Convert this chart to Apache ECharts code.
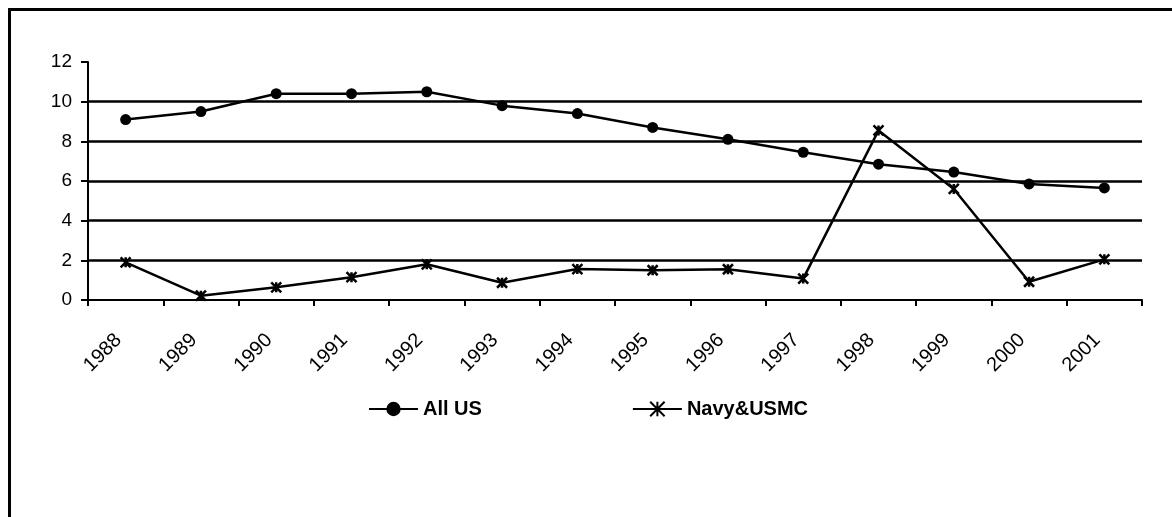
<!DOCTYPE html>
<html>
<head>
<meta charset="utf-8">
<script src="https://cdn.jsdelivr.net/npm/echarts@6/dist/echarts.min.js"></script>
<style>
    html, body { margin: 0; padding: 0; background: #fff; }
    #chart { width: 1172px; height: 517px; }
</style>
</head>
<body>
<div id="chart"></div>
<script>
// years on the category axis
var years = ['1988', '1989', '1990', '1991', '1992', '1993', '1994',
    '1995', '1996', '1997', '1998', '1999', '2000', '2001'];
// rates
var allUS = [9.1, 9.5, 10.4, 10.4, 10.5, 9.8, 9.4, 8.7, 8.1, 7.45, 6.85, 6.45, 5.85, 5.65];
var navyUSMC = [1.9, 0.22, 0.64, 1.15, 1.8, 0.87, 1.56, 1.5, 1.55, 1.08, 8.55, 5.6, 0.92, 2.05];
// horizontal rules (no rule at the top value)
var gridValues = [2, 4, 6, 8, 10];

var asterisk = 'path://M0,0 L10,10 M10,0 L0,10 M5,0 L5,10';
var font = 'Liberation Sans, Arial, sans-serif';

var myChart = echarts.init(document.getElementById('chart'));
var option = {
    animation: false,
    backgroundColor: '#fff',
    graphic: [{
        type: 'rect',
        shape: {x: 9.5, y: 9.5, width: 1300, height: 700},
        style: {fill: 'none', stroke: '#000', lineWidth: 3},
        silent: true
    }],
    grid: {
        left: 88,
        right: 30,
        top: 62,
        bottom: 217,
        containLabel: false
    },
    legend: {
        left: 363,
        top: 394,
        itemWidth: 49,
        itemHeight: 18,
        itemGap: 150,
        textStyle: {
            color: '#000',
            fontFamily: font,
            fontWeight: 'bold',
            fontSize: 20
        },
        data: ['All US', 'Navy&USMC']
    },
    xAxis: {
        type: 'category',
        data: years,
        boundaryGap: true,
        axisLine: {lineStyle: {color: '#000', width: 2}},
        axisTick: {show: true, length: 6, lineStyle: {color: '#000', width: 2}},
        axisLabel: {
            rotate: 45,
            margin: 30,
            padding: [0, 10, 0, 0],
            interval: 0,
            color: '#000',
            fontFamily: font,
            fontSize: 20
        },
        splitLine: {show: false}
    },
    yAxis: {
        type: 'value',
        min: 0,
        max: 12,
        interval: 2,
        axisLine: {show: true, lineStyle: {color: '#000', width: 2}},
        axisTick: {show: true, length: 7, lineStyle: {color: '#000', width: 2}},
        axisLabel: {
            margin: 16,
            color: '#000',
            fontFamily: font,
            fontSize: 19
        },
        splitLine: {show: false}
    },
    series: [{
        name: 'All US',
        type: 'line',
        data: allUS,
        symbol: 'circle',
        symbolSize: 11,
        lineStyle: {color: '#000', width: 2.5},
        itemStyle: {color: '#000'},
        emphasis: {disabled: true},
        markLine: {
            silent: true,
            symbol: 'none',
            label: {show: false},
            lineStyle: {color: '#000', type: 'solid', width: 2.5},
            data: gridValues.map(function (v) { return {yAxis: v}; })
        }
    }, {
        name: 'Navy&USMC',
        type: 'line',
        data: navyUSMC,
        symbol: asterisk,
        symbolSize: 10,
        lineStyle: {color: '#000', width: 2.5},
        itemStyle: {color: '#000', borderColor: '#000', borderWidth: 2.5},
        emphasis: {disabled: true}
    }]
};
myChart.setOption(option);
</script>
</body>
</html>
